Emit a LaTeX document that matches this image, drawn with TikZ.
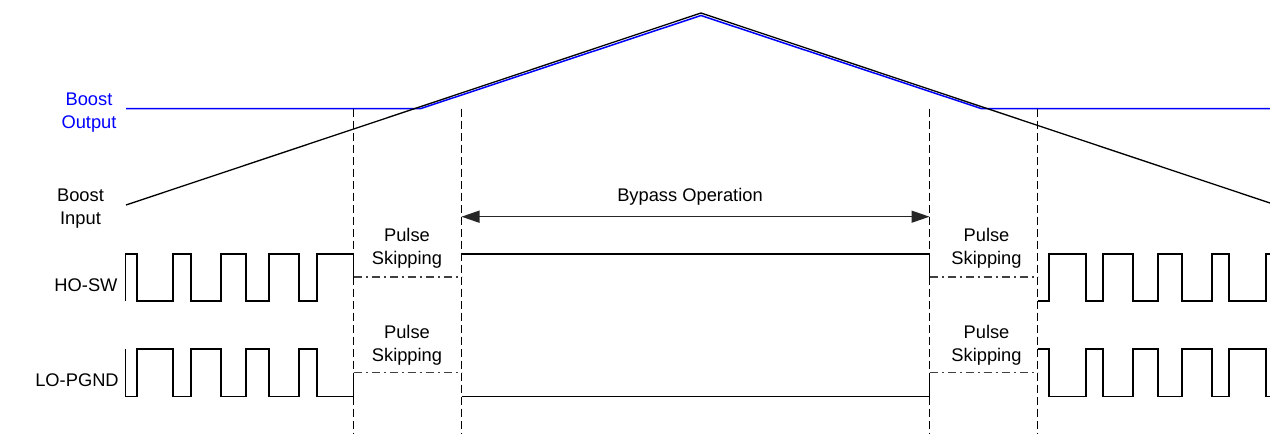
\documentclass[tikz,border=0pt]{standalone}
\usepackage{fontspec}
\setmainfont{Liberation Sans}
\usetikzlibrary{arrows.meta}
\begin{document}
\begin{tikzpicture}[x=1pt,y=-1pt,
  lbl/.style={inner sep=0pt,outer sep=0pt,align=center,anchor=base,font=\fontsize{18.3}{23}\selectfont},
  wave/.style={line width=1.4pt,line join=miter},
  vdash/.style={line width=1.4pt,dash pattern=on 8pt off 4pt},
  dashdot/.style={line width=1.3pt,dash pattern=on 8pt off 4pt on 2pt off 4pt,draw=black!75},
  ramp/.style={line width=1.3pt},
  outline/.style={line width=1.5pt,draw=blue}]
\useasboundingbox (0,0) rectangle (1270,434);
% labels (base = baseline of last line)
\node[lbl,text=blue] (bout) at (89,128.9) {Boost\\Output};
\node[lbl] (bin) at (80.5,224) {Boost\\Input};
\node[lbl] (ho) at (86,291.6) {HO-SW};
\node[lbl] (lo) at (77,386) {LO-PGND};
\node[lbl] (ps1) at (407,264.3) {Pulse\\Skipping};
\node[lbl] (ps2) at (407,361.6) {Pulse\\Skipping};
\node[lbl] (ps3) at (986.5,264.3) {Pulse\\Skipping};
\node[lbl] (ps4) at (986.5,361.6) {Pulse\\Skipping};
\node[lbl] (byp) at (690,201.5) {Bypass Operation};
% boost input / output
\draw[outline] (126,108.5) -- (421,108.5) -- (701,15.5) -- (981,108.5) -- (1270,108.5);
\draw[ramp] (126,205) -- (701,13) -- (1270,203);
% vertical dashed
\coordinate (d1t) at (353.5,108.5); \coordinate (d1b) at (353.5,434);
\coordinate (d2t) at (461.5,108.5); \coordinate (d2b) at (461.5,434);
\coordinate (d3t) at (929.5,108.5); \coordinate (d3b) at (929.5,434);
\coordinate (d4t) at (1037.5,108.5);\coordinate (d4b) at (1037.5,434);
\draw[vdash] (d1t) -- (d1b);
\draw[vdash] (d2t) -- (d2b);
\draw[vdash] (d3t) -- (d3b);
\draw[vdash] (d4t) -- (d4b);
% bypass arrow
\coordinate (a1) at (461.5,216.7); \coordinate (a2) at (929.5,216.7);
\draw[line width=1.5pt,draw=black!85,{Triangle[length=18pt,width=12pt]}-{Triangle[length=18pt,width=12pt]}] (a1) -- (a2);
% HO-SW
\draw[wave] (125.5,301) -- (125.5,254) -- (137,254) -- (137,301) -- (173,301) -- (173,254) -- (191,254) -- (191,301) -- (221,301) -- (221,254) -- (246,254) -- (246,301) -- (269,301) -- (269,254) -- (299,254) -- (299,301) -- (317,301) -- (317,254) -- (353.5,254) -- (353.5,277);
\draw[dashdot] (353.5,277) -- (461.5,277);
\draw[wave] (461.5,254) -- (929.5,254) -- (929.5,277);
\draw[dashdot] (929.5,277) -- (1037.5,277);
\draw[wave] (1037.5,301) -- (1049,301) -- (1049,254) -- (1086,254) -- (1086,301) -- (1103,301) -- (1103,254) -- (1133,254) -- (1133,301) -- (1158,301) -- (1158,254) -- (1182,254) -- (1182,301) -- (1212,301) -- (1212,254) -- (1229,254) -- (1229,301) -- (1266,301) -- (1266,254) -- (1271,254);
% LO-PGND
\draw[wave] (125.5,349) -- (125.5,396.5) -- (137,396.5) -- (137,349) -- (173,349) -- (173,396.5) -- (191,396.5) -- (191,349) -- (221,349) -- (221,396.5) -- (246,396.5) -- (246,349) -- (269,349) -- (269,396.5) -- (299,396.5) -- (299,349) -- (317,349) -- (317,396.5) -- (353.5,396.5) -- (353.5,372.7);
\draw[dashdot] (353.5,372.7) -- (461.5,372.7);
\draw[wave] (461.5,396.5) -- (929.5,396.5) -- (929.5,372.7);
\draw[dashdot] (929.5,372.7) -- (1037.5,372.7);
\draw[wave] (1037.5,349) -- (1049,349) -- (1049,396.5) -- (1086,396.5) -- (1086,349) -- (1103,349) -- (1103,396.5) -- (1133,396.5) -- (1133,349) -- (1158,349) -- (1158,396.5) -- (1182,396.5) -- (1182,349) -- (1212,349) -- (1212,396.5) -- (1229,396.5) -- (1229,349) -- (1266,349) -- (1266,396.5) -- (1271,396.5);
\end{tikzpicture}
\end{document}
